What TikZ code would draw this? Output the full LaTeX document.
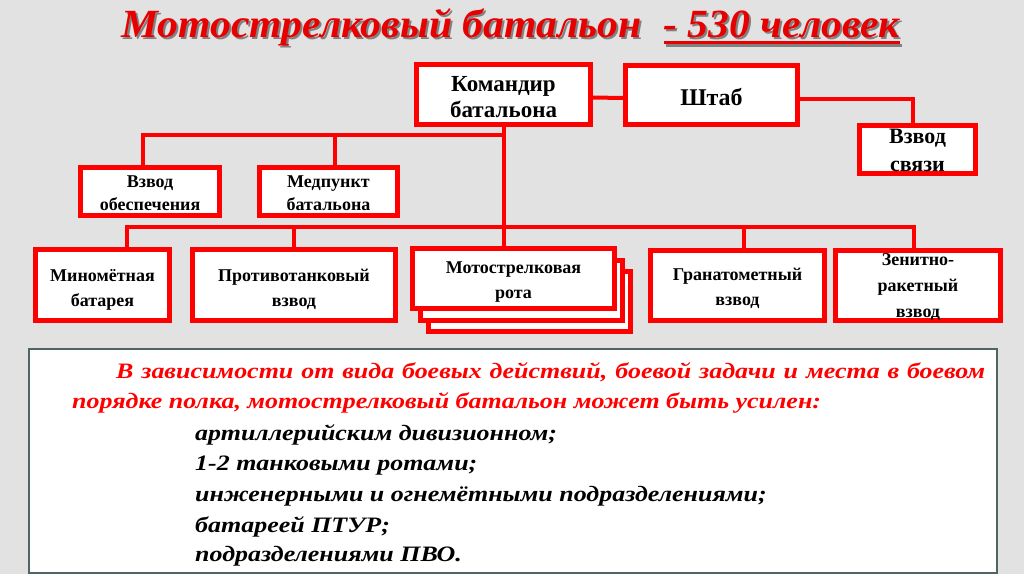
\documentclass[tikz,border=0pt]{standalone}
\usepackage{fontspec}
\setmainfont{Liberation Serif}
\newfontfamily\widefont[FakeStretch=1.18]{Liberation Serif}
\newfontfamily\titlefont[FakeStretch=1.04]{Liberation Serif}
\usetikzlibrary{shadows}
\definecolor{bg}{RGB}{226,226,226}
\definecolor{rd}{RGB}{255,0,0}
\definecolor{titlered}{RGB}{232,0,0}
\definecolor{framecol}{RGB}{80,100,100}
\newcommand\thickul[1]{\setbox0\hbox{#1}\rlap{\rule[-7pt]{\wd0}{3pt}}\box0}
\begin{document}
\begin{tikzpicture}[x=1pt,y=-1pt,
  box/.style={draw=rd, line width=5pt, fill=white, inner sep=0pt,
    drop shadow={shadow xshift=-1.2pt, shadow yshift=-1.5pt, fill=red!45!black, opacity=0.8}},
  lbl/.style={align=center, inner sep=0pt},
  conn/.style={draw=rd, line width=4pt},
  bigtxt/.style={font=\bfseries\fontsize{23}{26}\selectfont},
  smtxt/.style={font=\bfseries\fontsize{18}{25}\selectfont},
  bodytxt/.style={anchor=base west, inner sep=0pt, font=\widefont\bfseries\itshape\fontsize{22}{22}\selectfont},
  titletxt/.style={anchor=base west, inner sep=0pt, font=\titlefont\bfseries\itshape\fontsize{40}{40}\selectfont}]
\fill[bg] (0,0) rectangle (1024,574);
\useasboundingbox (0,0) rectangle (1024,574);
% title
\node[titletxt, text=black!80, opacity=0.55] (titleshadow) at (123,39.5)
  {Мотострелковый батальон\hspace{22pt}\thickul{- 530 человек}};
\node[titletxt, text=titlered] (title) at (121,37)
  {Мотострелковый батальон\hspace{22pt}\thickul{- 530 человек}};
% boxes
\node[box, minimum width=174pt, minimum height=60pt] (cmd) at (503.5,94.5) {};
\node[lbl, bigtxt] (cmdL) at ([yshift=-3pt]cmd.center) {Командир\\батальона};
\node[box, minimum width=172pt, minimum height=59pt] (shtab) at (711.5,95) {};
\node[lbl, font=\bfseries\fontsize{24}{26}\selectfont] (shtabL) at ([yshift=-2pt]shtab.center) {Штаб};
\node[box, minimum width=116pt, minimum height=48pt] (svyaz) at (917.5,149.5) {};
\node[lbl, font=\bfseries\fontsize{22}{28}\selectfont] (svyazL) at ([yshift=-1pt]svyaz.center) {Взвод\\связи};
\node[box, minimum width=139pt, minimum height=48pt] (obesp) at (150,191.5) {};
\node[lbl, font=\bfseries\fontsize{18}{23}\selectfont] (obespL) at ([yshift=-2pt]obesp.center) {Взвод\\обеспечения};
\node[box, minimum width=138pt, minimum height=48pt] (med) at (328.5,191.5) {};
\node[lbl, font=\bfseries\fontsize{18}{23}\selectfont] (medL) at ([yshift=-2pt]med.center) {Медпункт\\батальона};
\node[box, minimum width=134pt, minimum height=71pt] (minom) at (102.5,285) {};
\node[lbl, smtxt] (minomL) at ([yshift=-5pt]minom.center) {Миномётная\\батарея};
\node[box, minimum width=203pt, minimum height=71pt] (ptv) at (294,285) {};
\node[lbl, smtxt] (ptvL) at ([yshift=-4pt]ptv.center) {Противотанковый\\взвод};
\node[box, minimum width=202pt, minimum height=60pt] (rota3) at (529.5,301.5) {};
\node[box, minimum width=202pt, minimum height=60pt] (rota2) at (521.5,290) {};
\node[box, minimum width=202pt, minimum height=60pt] (rota) at (513.5,278.5) {};
\node[lbl, smtxt] (rotaL) at ([yshift=-4pt]rota.center) {Мотострелковая\\рота};
\node[box, minimum width=174pt, minimum height=70pt] (gran) at (737.5,285.5) {};
\node[lbl, smtxt] (granL) at ([yshift=-3pt]gran.center) {Гранатометный\\взвод};
\node[box, minimum width=165pt, minimum height=70pt] (zenit) at (918,285.5) {};
\node[lbl, font=\bfseries\fontsize{18}{26}\selectfont] (zenitL) at ([yshift=-2pt]zenit.center) {Зенитно-\\ракетный\\взвод};
% connectors
\coordinate (b1) at (503.5,135);
\coordinate (b2) at (503.5,227);
\draw[conn] ([yshift=-3pt]cmd.east) -- ([yshift=-3pt]shtab.west);
\draw[conn] ([yshift=-4pt]shtab.east) -| ([xshift=-4.5pt]svyaz.north);
\draw[conn] (cmd.south) -- (cmd.south |- rota.north);
\draw[conn] ([xshift=-7pt]obesp.north) |- (b1);
\draw[conn] ([xshift=6.5pt]med.north) -- ([xshift=6.5pt]med.north |- b1);
\draw[conn] ([xshift=24.5pt]minom.north) |- (b2) -| ([xshift=-4pt]zenit.north);
\draw[conn] (ptv.north) -- (ptv.north |- b2);
\draw[conn] ([xshift=6.5pt]gran.north) -- ([xshift=6.5pt]gran.north |- b2);
% note box
\node[draw=framecol, line width=1.5pt, fill=white, minimum width=968pt, minimum height=224pt, inner sep=0pt] (note) at (513,461) {};
\node[bodytxt, text=rd] (l1) at (116,378) {\makebox[869pt][s]{В зависимости от вида боевых действий, боевой задачи и места в боевом}};
\node[bodytxt, text=rd] (l2) at (72,408) {порядке полка, мотострелковый батальон может быть усилен:};
\node[bodytxt] (i1) at (195,440) {артиллерийским дивизионном;};
\node[bodytxt] (i2) at (195,470) {1-2 танковыми ротами;};
\node[bodytxt] (i3) at (195,501) {инженерными и огнемётными подразделениями;};
\node[bodytxt] (i4) at (195,532) {батареей ПТУР;};
\node[bodytxt] (i5) at (195,561) {подразделениями ПВО.};
\end{tikzpicture}
\end{document}
